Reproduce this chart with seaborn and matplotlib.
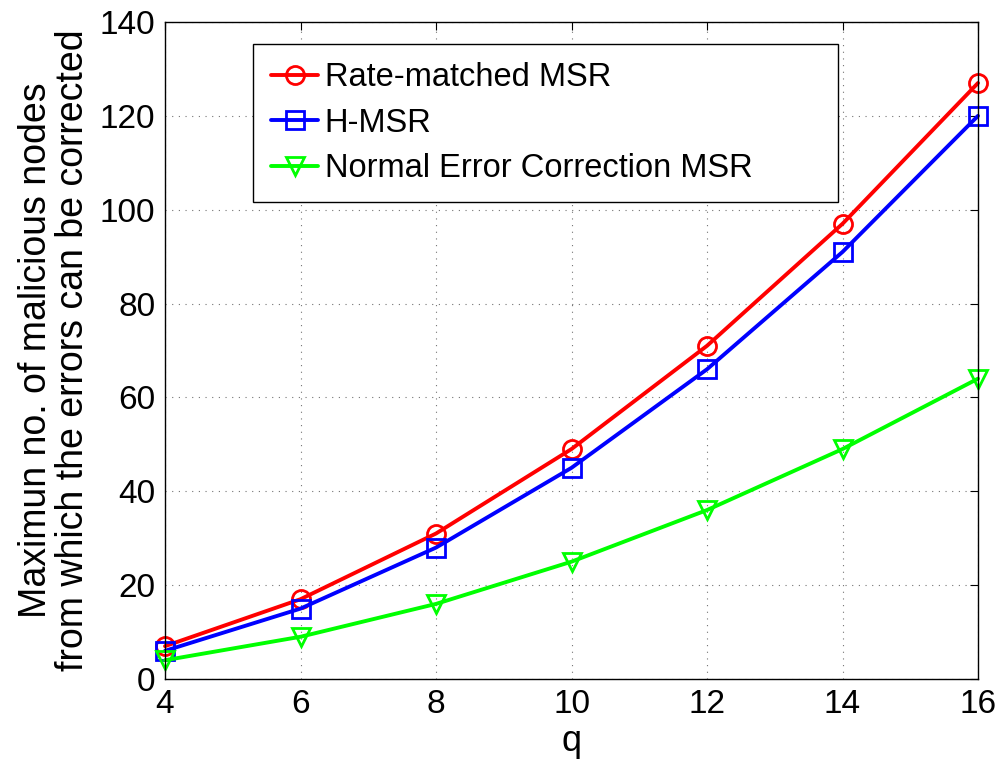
import matplotlib
matplotlib.use("Agg")
import matplotlib.pyplot as plt
import seaborn as sns
import pandas as pd

q = [4, 6, 8, 10, 12, 14, 16]
rate_matched = [7, 17, 31, 49, 71, 97, 127]
h_msr = [6, 15, 28, 45, 66, 91, 120]
normal_ec = [4, 9, 16, 25, 36, 49, 64]
labels = ["Rate-matched MSR", "H-MSR", "Normal Error Correction MSR"]

sns.set_style("white")
plt.rcParams['font.family'] = ['Liberation Sans', 'DejaVu Sans']
plt.rcParams['text.color'] = 'black'
plt.rcParams['axes.labelcolor'] = 'black'
plt.rcParams['xtick.color'] = 'black'
plt.rcParams['ytick.color'] = 'black'

fig = plt.figure(figsize=(10.01, 7.63), dpi=100)
ax = fig.add_axes([165/1001, 1-679/763, (978-165)/1001, (679-22)/763])

df = pd.DataFrame({"q": q * 3,
                   "v": rate_matched + h_msr + normal_ec,
                   "s": [labels[0]] * 7 + [labels[1]] * 7 + [labels[2]] * 7})
colors = ["#ff0000", "#0000ff", "#00ff00"]
markers = ["o", "s", "v"]
for lab, c, m in zip(labels, colors, markers):
    sub = df[df.s == lab]
    sns.lineplot(data=sub, x="q", y="v", ax=ax, color=c, marker=m, markersize=13,
                 markerfacecolor="none", markeredgecolor=c, markeredgewidth=2,
                 linewidth=2.8, label=lab, clip_on=False)

ax.set_xlim(4, 16)
ax.set_ylim(0, 140)
ax.set_xticks(q)
ax.set_yticks(range(0, 141, 20))
ax.tick_params(labelsize=24, direction="in", length=6, top=True, right=True, pad=7,
               colors="black")
ax.grid(True, linestyle=(0, (1, 5)), color="#000000", linewidth=0.8, alpha=0.55)
for s in ax.spines.values():
    s.set_color("black")
    s.set_linewidth(1.0)
ax.set_xlabel("q", fontsize=26, labelpad=3, color="black")
ax.set_ylabel("Maximun no. of malicious nodes\nfrom which the errors can be corrected",
              fontsize=27, labelpad=6, linespacing=1.05, color="black")

x0 = (253-165)/813
w = (838-253)/813
y0 = 1-(44-22)/657
leg = ax.legend(loc="upper left", bbox_to_anchor=(x0, y0, w, 0), mode="expand",
                fontsize=23.5, frameon=True, fancybox=False, handlelength=1.45,
                handletextpad=0.2, borderaxespad=0, labelspacing=0.45, borderpad=0.55,
                labelcolor="black")
leg.get_frame().set_edgecolor("black")
leg.get_frame().set_linewidth(1.0)
leg.get_frame().set_alpha(1)

fig.savefig("out.png", dpi=100)
